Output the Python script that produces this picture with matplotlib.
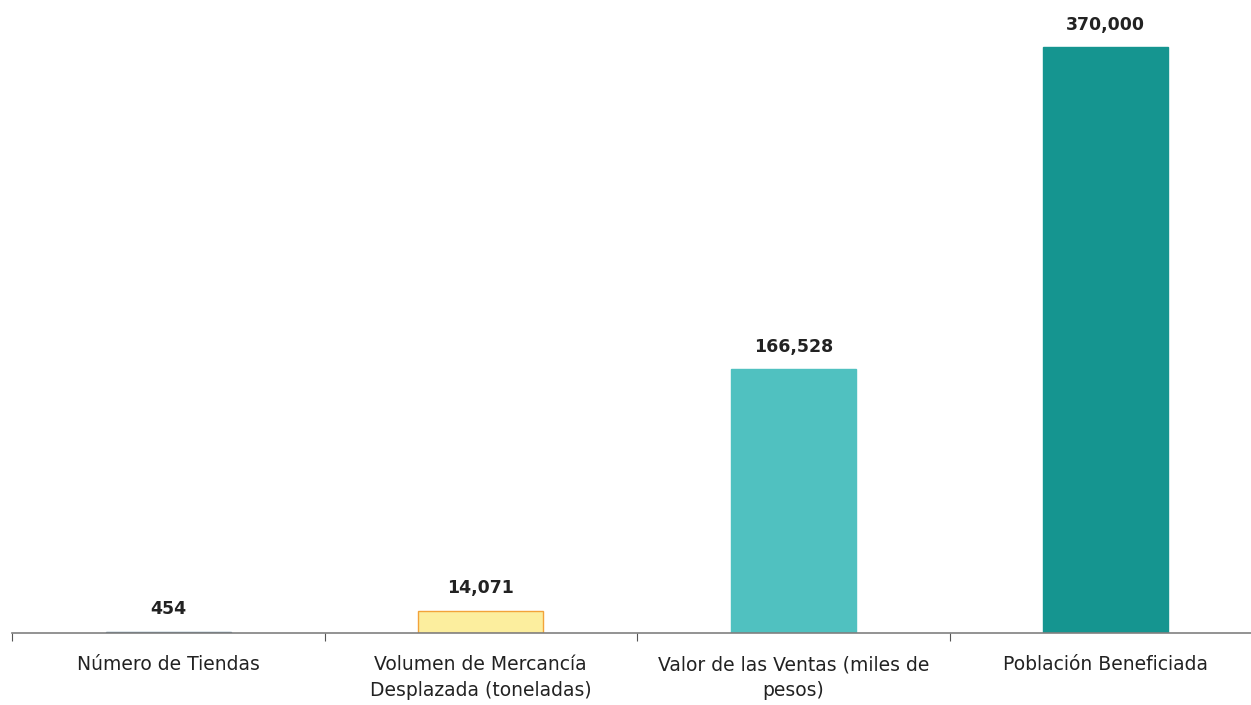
import matplotlib
matplotlib.use("Agg")
import matplotlib.pyplot as plt

categories = ["Número de Tiendas", "Volumen de Mercancía\nDesplazada (toneladas)",
              "Valor de las Ventas (miles de\npesos)", "Población Beneficiada"]
values = [454, 14071, 166528, 370000]
labels = ["454", "14,071", "166,528", "370,000"]
face_colors = ["#5B7F95", "#FCEE9E", "#50C1C0", "#159590"]
edge_colors = ["#5B7F95", "#F2A33A", "#50C1C0", "#159590"]

W, H = 1251, 705
fig = plt.figure(figsize=(W / 100, H / 100), dpi=100)
ax = fig.add_axes([12 / W, 72 / H, 1250 / W, 633 / H])

x = range(len(values))
bars = ax.bar(x, values, width=0.4, color=face_colors, edgecolor=edge_colors, linewidth=1)
ax.set_xlim(-0.5, 3.5)
ax.set_ylim(0, 400000)

for xi, v, lab in zip(x, values, labels):
    ax.annotate(lab, (xi, v), xytext=(0, 10), textcoords="offset points",
                ha="center", va="bottom", fontsize=12.5, fontweight="bold", color="#222222")

for s in ["top", "right", "left"]:
    ax.spines[s].set_visible(False)
ax.spines["bottom"].set_color("#808080")
ax.spines["bottom"].set_linewidth(1.2)
ax.set_yticks([])
ax.set_xticks([-0.5, 0.5, 1.5, 2.5], minor=False)
ax.set_xticklabels([])
ax.tick_params(axis="x", which="major", length=6, color="#555555", direction="out")
ax.set_xticks(list(x), minor=True)
ax.set_xticklabels(categories, minor=True, fontsize=13.5, color="#222222", linespacing=1.42)
ax.tick_params(axis="x", which="minor", length=0, pad=16)

fig.savefig("out.png", dpi=100)
